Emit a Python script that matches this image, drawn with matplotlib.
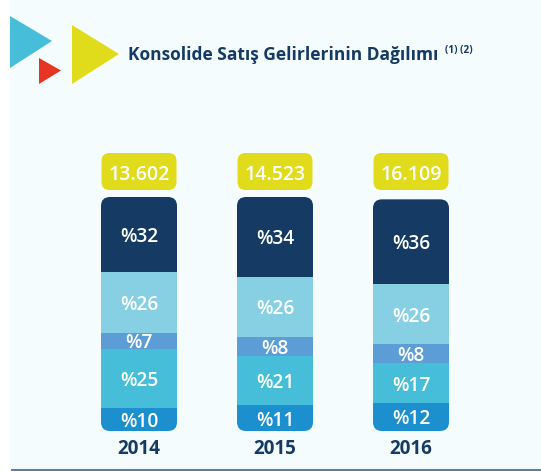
# stacked revenue split per year
import matplotlib

matplotlib.use("Agg")
import matplotlib.pyplot as plt
from matplotlib.patches import FancyBboxPatch, Polygon, Rectangle

plt.rcParams["font.family"] = ["Open Sans", "DejaVu Sans"]

years = ["2014", "2015", "2016"]
totals = ["13.602", "14.523", "16.109"]
seg_bottom = [10, 11, 12]
seg_teal = [25, 21, 17]
seg_mid = [7, 8, 8]
seg_light = [26, 26, 26]
seg_navy = [32, 34, 36]
segments = [seg_bottom, seg_teal, seg_mid, seg_light, seg_navy]
colors = ["#1c8fcf", "#46bed9", "#5c9dd5", "#87cfe3", "#153a64"]

NAVY = "#153a64"
YELLOW = "#e0dc1c"
W, H = 541, 471
base_y = 431  # pixel row of the bar bottoms
px_per_unit = 2.34
step = 136
x0 = 139
bar_w = 76

fig = plt.figure(figsize=(W / 100, H / 100), dpi=100, facecolor="white")

# pixel layer for the decoration
bg = fig.add_axes([0, 0, 1, 1])
bg.set_xlim(0, W)
bg.set_ylim(H, 0)
bg.axis("off")
bg.add_patch(Rectangle((10, 0), W - 10, 469, fc="#f5fcfd", ec="none"))
bg.add_patch(Rectangle((11, 469), W - 11, 2, fc="#5f7d9c", ec="none"))
bg.add_patch(Polygon([(10, 16), (52, 41), (10, 68)], fc="#46bed9", ec="none"))
bg.add_patch(Polygon([(39, 58), (61, 70.5), (39, 84)], fc="#e73525", ec="none"))
bg.add_patch(Polygon([(72, 25), (119, 54), (72, 84)], fc=YELLOW, ec="none"))
bg.text(128, 55, "Konsolide Satış Gelirlerinin Dağılımı", color=NAVY, fontsize=12.5,
        fontweight="bold", va="center", ha="left")
bg.text(445, 51, "(1) (2)", color=NAVY, fontsize=7.2, fontweight="bold", va="center", ha="left")

# bars in data units
ax = fig.add_axes([0, 0, 1, 1])
ax.patch.set_alpha(0)
ax.axis("off")
ax.set_xlim(-x0 / step, (W - x0) / step)
ax.set_ylim(-(H - base_y) / px_per_unit, base_y / px_per_unit)

for i, year in enumerate(years):
    cx = x0 + step * i
    top = sum(s[i] for s in segments)
    clip = FancyBboxPatch((cx - bar_w / 2, base_y - top * px_per_unit), bar_w, top * px_per_unit,
                          boxstyle="round,pad=0,rounding_size=9", transform=bg.transData)
    bottom = 0
    for seg, c in zip(segments, colors):
        bars = ax.bar(i, seg[i], bottom=bottom, width=bar_w / step, color=c, linewidth=0)
        bars[0].set_clip_path(clip)
        ax.text(i, bottom + seg[i] / 2, f"%{seg[i]}", color="white", fontsize=13.8,
                fontweight="semibold", ha="center", va="center_baseline")
        bottom += seg[i]
    # total badge and year
    bg.add_patch(FancyBboxPatch((cx - 37.5, 153), 75, 37, boxstyle="round,pad=0,rounding_size=8",
                                fc=YELLOW, ec="none"))
    bg.text(cx, 172, totals[i], color="white", fontsize=14, fontweight="semibold",
            ha="center", va="center_baseline")
    bg.text(cx, 447, year, color=NAVY, fontsize=13.5, fontweight="bold",
            ha="center", va="center_baseline")

fig.savefig("out.png", dpi=100, facecolor="white")
